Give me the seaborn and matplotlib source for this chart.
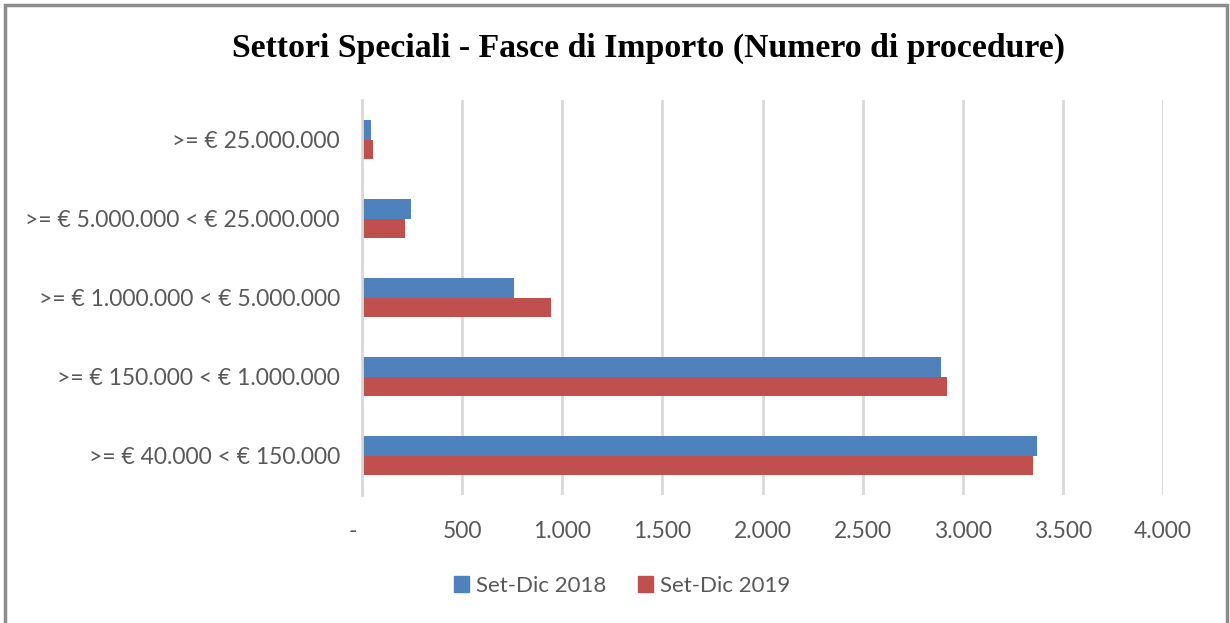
import matplotlib
matplotlib.use("Agg")
import matplotlib.pyplot as plt
import matplotlib.patches as mpatches
import seaborn as sns
import pandas as pd

categories = [
    ">= € 25.000.000",
    ">= € 5.000.000 < € 25.000.000",
    ">= € 1.000.000 < € 5.000.000",
    ">= € 150.000 < € 1.000.000",
    ">= € 40.000 < € 150.000",
]
series_names = ["Set-Dic 2018", "Set-Dic 2019"]
values_2018 = [46, 246, 758, 2893, 3370]
values_2019 = [54, 216, 942, 2921, 3350]
x_ticks = [0, 500, 1000, 1500, 2000, 2500, 3000, 3500, 4000]
x_tick_labels = ["-   ", "500", "1.000", "1.500", "2.000", "2.500", "3.000", "3.500", "4.000"]
title = "Settori Speciali - Fasce di Importo (Numero di procedure)"
colors = ["#4F81BD", "#C0504D"]

df = pd.DataFrame({
    "categoria": categories * 2,
    "serie": [series_names[0]] * len(categories) + [series_names[1]] * len(categories),
    "valore": values_2018 + values_2019,
})

sns.set_theme(style="white")
plt.rcParams["font.family"] = ["Lato", "DejaVu Sans"]

fig = plt.figure(figsize=(12.3, 6.23), dpi=100)
ax = fig.add_axes([362 / 1230, 1 - 495 / 623, (1163 - 362) / 1230, (495 - 100) / 623])

sns.barplot(data=df, y="categoria", x="valore", hue="serie", order=categories,
            hue_order=series_names, palette=colors, width=0.5, orient="h",
            saturation=1, ax=ax, legend=True, linewidth=0, edgecolor="none")

ax.set_xlim(0, 4000)
ax.set_ylim(len(categories) - 0.5, -0.5)
ax.set_xticks(x_ticks)
ax.set_xticklabels(x_tick_labels)
ax.set_xlabel("")
ax.set_ylabel("")
ax.xaxis.grid(True, color="#d9d9d9", linewidth=2)
ax.yaxis.grid(False)
ax.set_axisbelow(True)
for s in ["top", "right", "bottom"]:
    ax.spines[s].set_visible(False)
ax.spines["left"].set_color("#d9d9d9")
ax.spines["left"].set_linewidth(2)
ax.tick_params(axis="x", length=0, pad=19, labelsize=16.5, labelcolor="#595959")
ax.tick_params(axis="y", length=0, pad=16, labelsize=16.5, labelcolor="#595959")

ax.legend_.remove()
handles = [mpatches.Patch(color=c, label=n) for c, n in zip(colors, series_names)]
fig.legend(handles=handles, loc="center", bbox_to_anchor=(622 / 1230, 1 - 586 / 623),
           ncol=2, frameon=False, fontsize=16, handlelength=0.7, handleheight=0.7,
           handletextpad=0.3, columnspacing=1.4, labelcolor="#595959")

fig.text(648 / 1230, 1 - 48 / 623, title, ha="center", va="center",
         fontsize=24.3, fontweight="bold", family=["Liberation Serif", "DejaVu Serif"],
         color="#000000")

frame = mpatches.Rectangle((4.5 / 1230, -0.05), (1227 - 4.5) / 1230, 1 - 4.5 / 623 + 0.05,
                           transform=fig.transFigure, fill=False, edgecolor="#8c8c8c",
                           linewidth=2.5, clip_on=False)
fig.patches.append(frame)

fig.savefig("out.png", dpi=100, facecolor="white")
